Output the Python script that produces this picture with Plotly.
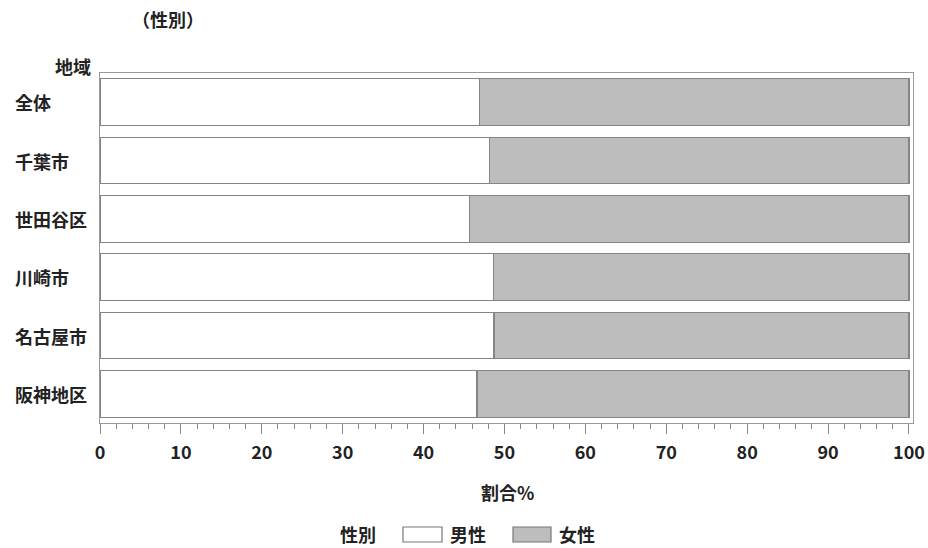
import plotly.graph_objects as go

regions = ["全体", "千葉市", "世田谷区", "川崎市", "名古屋市", "阪神地区"]
male = [46.9, 48.1, 45.7, 48.6, 48.7, 46.6]
female = [round(100 - v, 1) for v in male]
series_names = ["男性", "女性"]
series_colors = ["#ffffff", "#bdbdbd"]
x_ticks = [0, 10, 20, 30, 40, 50, 60, 70, 80, 90, 100]

FONT = "Noto Sans CJK JP"
TXT = "#222222"
FS = 18

# page pixel geometry of the plot frame
PL, PR, PT, PB = 100, 913, 73, 423
W, H = PR - PL, PB - PT


def px(x):
    return (x - PL) / W


def py(y):
    return (PB - y) / H


fig = go.Figure()
for name, vals, col in zip(series_names, [male, female], series_colors):
    fig.add_trace(go.Bar(
        y=regions, x=vals, name=name, orientation="h",
        marker=dict(color=col, line=dict(color="#858585", width=1.2)),
        width=0.8, showlegend=False,
    ))

# category labels (left aligned)
for r in regions:
    fig.add_annotation(x=px(13), xref="paper", y=r, yref="y", text=r,
                       showarrow=False, xanchor="left", yanchor="middle",
                       font=dict(family=FONT, size=FS, color=TXT, weight="bold"))


def label(text, x, y):
    fig.add_annotation(x=px(x), y=py(y), xref="paper", yref="paper", text=text,
                       showarrow=False, xanchor="center", yanchor="middle",
                       font=dict(family=FONT, size=FS, color=TXT, weight="bold"))


# manual legend
label("性別", 358, 534)
legend_boxes = [(403, 442, 468), (513, 551, 577)]
for (x0, x1, tx), name, col in zip(legend_boxes, series_names, series_colors):
    fig.add_shape(type="rect", xref="paper", yref="paper",
                  x0=px(x0), x1=px(x1), y0=py(542), y1=py(527),
                  fillcolor=col, line=dict(color="#777777", width=1.2))
    label(name, tx, 534)

label("地域", 73, 66)
label("（性別）", 168, 19)
label("割合%", 507, 492)

fig.update_layout(
    barmode="stack",
    width=928, height=548,
    margin=dict(l=PL, r=928 - PR, t=PT, b=548 - PB),
    plot_bgcolor="white", paper_bgcolor="white",
    font=dict(family=FONT, color=TXT),
    xaxis=dict(
        range=[0, 100.5], tickvals=x_ticks, ticks="outside", ticklen=10,
        tickcolor="#888888", showgrid=False, zeroline=False, automargin=False,
        showline=True, linecolor="#999999", linewidth=1.2, mirror=True,
        ticklabelstandoff=3,
        tickfont=dict(size=FS, family=FONT, color=TXT, weight="bold"),
        minor=dict(dtick=2, ticks="outside", ticklen=5, tickcolor="#888888", showgrid=False),
    ),
    yaxis=dict(
        categoryorder="array", categoryarray=regions, automargin=False,
        range=[5.5, -0.5], showticklabels=False, ticks="",
        showgrid=False, zeroline=False,
        showline=True, linecolor="#999999", linewidth=1.2, mirror=True,
    ),
)

fig.write_html(
    "out.html",
    config={"displayModeBar": False},
    post_script="document.body.style.margin='0';document.body.style.overflow='hidden';",
)
